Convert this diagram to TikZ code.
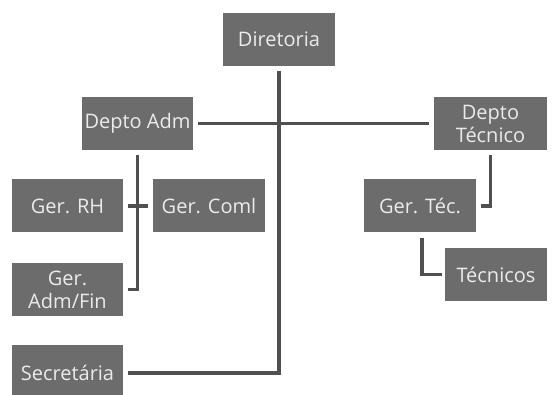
\documentclass[tikz,border=0pt]{standalone}
\usepackage{fontspec}
\setmainfont{Open Sans}
\usepackage{tikz}

\definecolor{boxgray}{RGB}{108,108,108}
\definecolor{linegray}{RGB}{80,80,80}
\definecolor{textgray}{RGB}{235,235,235}

\tikzset{
  unit/.style={fill=boxgray,text=textgray,minimum width=112pt,minimum height=53pt,
    inner sep=0pt,align=center,font=\fontsize{20}{23}\selectfont},
  link/.style={draw=linegray,line width=3.2pt,shorten <=5pt,shorten >=5pt}
}

\begin{document}
\begin{tikzpicture}[x=1pt,y=-1pt]
  \useasboundingbox[fill=white] (0,0) rectangle (555,395);

  \node[unit] (dir) at (279,39.5) {Diretoria};
  \node[unit,minimum width=111pt] (adm) at (137.5,123.5) {Depto Adm};
  \node[unit,minimum width=113pt] (tec) at (490.5,123.5) {Depto\\Técnico};
  \node[unit,minimum width=111pt] (rh) at (67.5,206) {Ger. RH};
  \node[unit] (coml) at (209,206) {Ger. Coml};
  \node[unit,minimum width=111pt] (fin) at (67.5,289.5) {Ger.\\Adm/Fin};
  \node[unit,minimum width=111pt,minimum height=56pt] (sec) at (67.5,373) {Secretária};
  \node[unit] (gtec) at (420,206) {Ger. Téc.};
  \node[unit,minimum width=102pt] (tecn) at (496,274.5) {Técnicos};

  \draw[link] (dir) |- (sec);
  \draw[link] (adm) -- (tec);
  \draw[link] (adm) |- (fin);
  \draw[link] (rh) -- (coml);
  \draw[link] (tec) |- (gtec);
  \draw[link,shorten >=3pt] ([xshift=2pt]gtec.south) |- (tecn);
\end{tikzpicture}
\end{document}
